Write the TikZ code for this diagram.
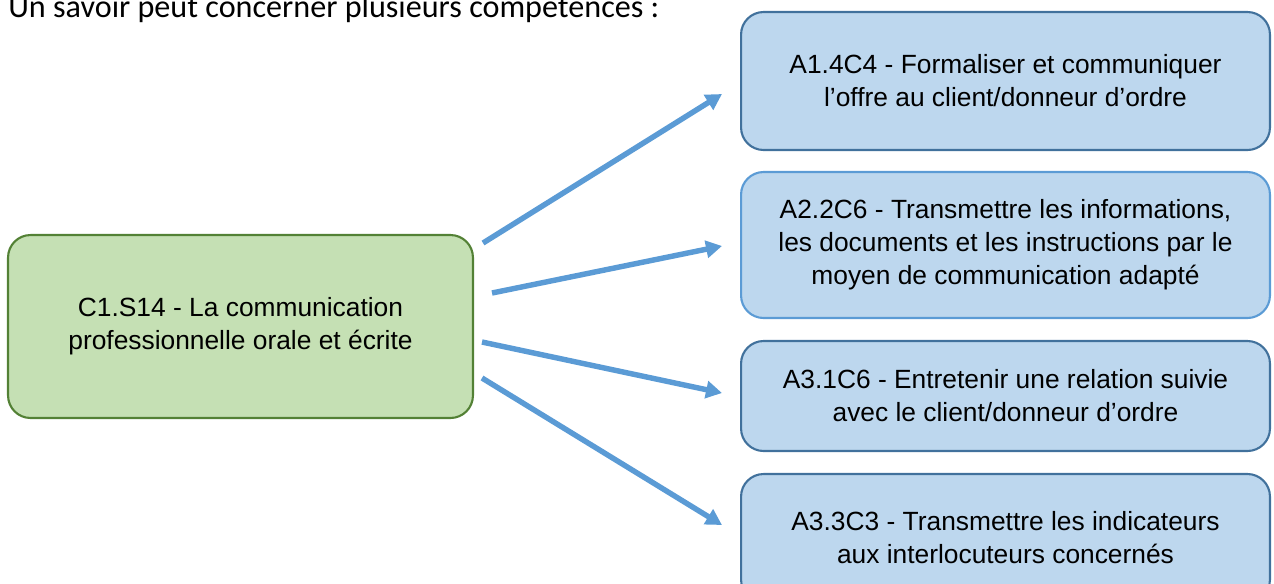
\documentclass[tikz,border=0pt]{standalone}
\usepackage{fontspec}
\setmainfont{Liberation Sans}
\newfontfamily\carlito{Carlito}
\usetikzlibrary{arrows.meta}
\usepackage{xcolor}

\definecolor{vertfond}{HTML}{C5E0B4}
\definecolor{vertbord}{HTML}{538135}
\definecolor{bleufond}{HTML}{BDD7EE}
\definecolor{bleubord}{HTML}{41719C}
\definecolor{bleuclair}{HTML}{5B9BD5}

\begin{document}
\begin{tikzpicture}[x=0.02cm,y=-0.02cm]
			\tikzstyle{boite} = [rounded corners=0.45cm, line width=1.2pt, align=center, inner sep=0pt, font=\fontsize{15pt}{18.8pt}\selectfont]
			\tikzstyle{savoir} = [boite, draw=vertbord, fill=vertfond, minimum width=9.3cm, minimum height=3.66cm]
			\tikzstyle{comp} = [boite, draw=bleubord, fill=bleufond, minimum width=10.58cm]
			\tikzstyle{fleche} = [line width=3.1pt, bleuclair, -{Triangle[length=0.32cm,width=0.34cm]}]
			
			\useasboundingbox (0,0) rectangle (1274,583);
			\clip (0,0) rectangle (1274,583);
			
			\node [anchor=base west, inner sep=0pt, font=\carlito\fontsize{18.3pt}{22pt}\selectfont] (titre) at (8,17) {Un savoir peut concerner plusieurs compétences :};
			
			\node [savoir] (s14) at (240.5,326.5) {C1.S14 - La communication\\professionnelle orale et écrite};
			
			\node [comp, minimum height=2.76cm] (a14) at (1005.5,81) {A1.4C4 - Formaliser et communiquer\\l’offre au client/donneur d’ordre};
			\node [comp, draw=bleuclair, minimum height=2.92cm] (a22) at (1005.5,245) {A2.2C6 - Transmettre les informations,\\les documents et les instructions par le\\moyen de communication adapté};
			\node [comp, minimum height=2.2cm] (a31) at (1005.5,396) {A3.1C6 - Entretenir une relation suivie\\avec le client/donneur d’ordre};
			\node [comp, minimum height=2.56cm] (a33) at (1005.5,538) {A3.3C3 - Transmettre les indicateurs\\aux interlocuteurs concernés};
			
			\draw [fleche] ([shift={(9,-83.5)}]s14.east) -- ([shift={(-18,13)}]a14.west);
			\draw [fleche] ([shift={(18,-33.5)}]s14.east) -- ([shift={(-18,1)}]a22.west);
			\draw [fleche] ([shift={(8,15.5)}]s14.east) -- ([shift={(-18,-3)}]a31.west);
			\draw [fleche] ([shift={(8,51.5)}]s14.east) -- ([shift={(-18,-13)}]a33.west);
			
		\end{tikzpicture}
\end{document}
